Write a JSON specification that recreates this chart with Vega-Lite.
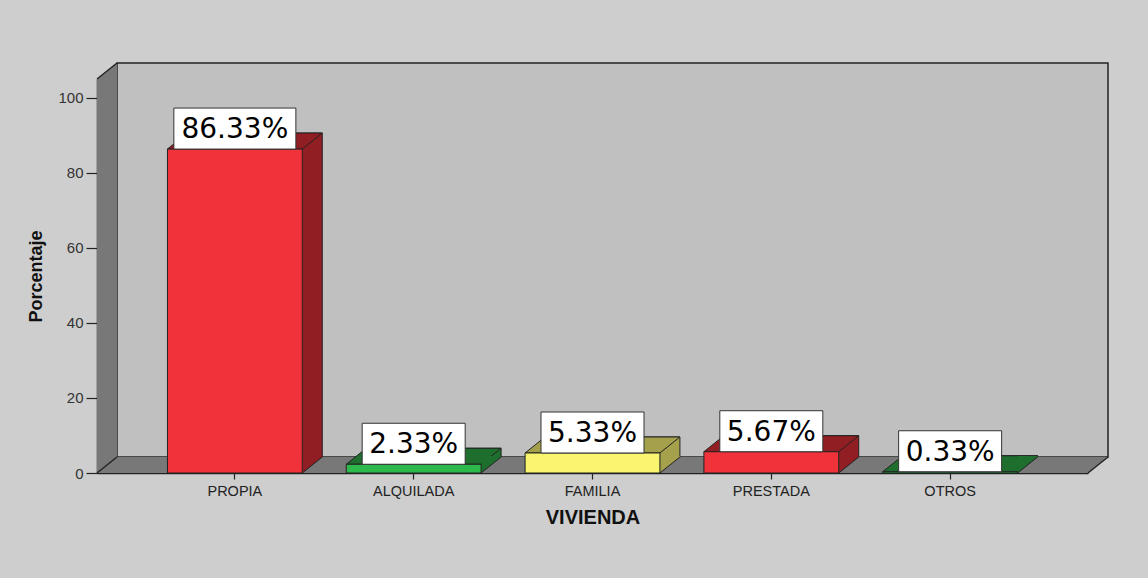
{
  "$schema": "https://vega.github.io/schema/vega-lite/v6.json",
  "width": 991,
  "height": 394,
  "autosize": {"type": "none"},
  "padding": {"left": 97, "top": 79, "right": 60, "bottom": 105},
  "background": "#CECECE",
  "config": {"view": {"stroke": null}},
  "data": {"values": [
    {"vivienda": "PROPIA", "pct": 86.33},
    {"vivienda": "ALQUILADA", "pct": 2.33},
    {"vivienda": "FAMILIA", "pct": 5.33},
    {"vivienda": "PRESTADA", "pct": 5.67},
    {"vivienda": "OTROS", "pct": 0.33}
  ]},
  "transform": [{"calculate": "format(datum.pct, '.2f') + '%'", "as": "label"}],
  "resolve": {"scale": {"fill": "independent"}},
  "layer": [
    {
      "data": {"values": [{}]},
      "mark": {"type": "rect", "xOffset": 20, "x2Offset": 20, "yOffset": -16, "y2Offset": -16, "fill": "#C0C0C0", "stroke": "#222222", "strokeWidth": 1.5},
      "encoding": {
        "x": {"value": 0}, "x2": {"value": "width"},
        "y": {"datum": 105, "type": "quantitative"}, "y2": {"datum": 0}
      }
    },
    {
      "data": {"values": [{}]},
      "mark": {"type": "rect", "x2Offset": 20, "fill": "#787878"},
      "encoding": {
        "x": {"value": 0}, "x2": {"value": 0},
        "y": {"datum": 105, "type": "quantitative"}, "y2": {"datum": 0}
      }
    },
    {
      "data": {"values": [{}]},
      "mark": {"type": "point", "shape": "M0,0L1,-0.8L1,0Z", "size": 1600, "filled": true, "fill": "#787878", "strokeWidth": 0, "opacity": 1},
      "encoding": {
        "x": {"value": 0},
        "y": {"datum": 105, "type": "quantitative"}
      }
    },
    {
      "data": {"values": [{}]},
      "mark": {"type": "rect", "yOffset": -16, "fill": "#787878"},
      "encoding": {
        "x": {"value": 0}, "x2": {"value": "width"},
        "y": {"datum": 0, "type": "quantitative"}, "y2": {"datum": 0}
      }
    },
    {
      "data": {"values": [{}]},
      "mark": {"type": "point", "shape": "M0,0L1,-0.8L0,-0.8Z", "size": 1600, "filled": true, "fill": "#787878", "strokeWidth": 0, "opacity": 1},
      "encoding": {
        "x": {"value": "width"},
        "y": {"datum": 0, "type": "quantitative"}
      }
    },
    {
      "data": {"values": [{}]},
      "mark": {"type": "rule", "x2Offset": 20, "y2Offset": -16, "stroke": "#222222", "strokeWidth": 1.5},
      "encoding": {
        "x": {"value": 0}, "x2": {"value": 0},
        "y": {"datum": 105, "type": "quantitative"}, "y2": {"datum": 105}
      }
    },
    {
      "data": {"values": [{}]},
      "mark": {"type": "rule", "x2Offset": 20, "y2Offset": -16, "stroke": "#222222", "strokeWidth": 1.5},
      "encoding": {
        "x": {"value": 0}, "x2": {"value": 0},
        "y": {"datum": 0, "type": "quantitative"}, "y2": {"datum": 0}
      }
    },
    {
      "data": {"values": [{}]},
      "mark": {"type": "rule", "x2Offset": 20, "y2Offset": -16, "stroke": "#222222", "strokeWidth": 1.5},
      "encoding": {
        "x": {"value": "width"}, "x2": {"value": "width"},
        "y": {"datum": 0, "type": "quantitative"}, "y2": {"datum": 0}
      }
    },
    {
      "mark": {"type": "bar", "xOffset": 20, "yOffset": -16, "y2Offset": -16, "stroke": "#222222", "strokeWidth": 1},
      "encoding": {
        "x": {"field": "vivienda", "type": "nominal", "sort": null,
              "scale": {"paddingInner": 0.246, "paddingOuter": 0.394},
              "axis": {"labelAngle": 0, "labelFont": "Liberation Sans", "labelFontSize": 14.5, "labelColor": "#222222",
                       "tickSize": 6, "tickColor": "#222222", "tickWidth": 1.2, "domainColor": "#222222", "domainWidth": 1.5,
                       "labelPadding": 5, "title": "VIVIENDA", "titleFont": "Liberation Sans", "titleFontSize": 20,
                       "titleFontWeight": "bold", "titleColor": "#111111", "titlePadding": 10, "grid": false}},
        "y": {"field": "pct", "type": "quantitative",
              "scale": {"domain": [0, 105], "nice": false},
              "axis": {"values": [0, 20, 40, 60, 80, 100], "tickSize": 11, "tickColor": "#222222", "tickWidth": 1.2,
                       "domainColor": "#222222", "domainWidth": 1.5, "labelFont": "Liberation Sans", "labelFontSize": 15,
                       "labelColor": "#333333", "labelPadding": 3, "title": "Porcentaje", "titleFont": "Liberation Sans",
                       "titleFontSize": 18, "titleFontWeight": "bold", "titleColor": "#111111", "titlePadding": 12, "grid": false}},
        "y2": {"datum": 0},
        "fill": {"field": "vivienda", "type": "nominal",
                 "scale": {"domain": ["PROPIA", "ALQUILADA", "FAMILIA", "PRESTADA", "OTROS"],
                           "range": ["#911E23", "#1E6E2D", "#A5A04B", "#911E23", "#1E6E2D"]},
                 "legend": null}
      }
    },
    {
      "mark": {"type": "point", "shape": "M0,0L1,-0.8L7.74,-0.8L6.74,0Z", "size": 1600, "filled": true, "stroke": "#222222", "strokeWidth": 1, "opacity": 1},
      "encoding": {
        "x": {"field": "vivienda", "type": "nominal", "sort": null, "bandPosition": 0},
        "y": {"field": "pct", "type": "quantitative"},
        "fill": {"field": "vivienda", "type": "nominal",
                 "scale": {"domain": ["PROPIA", "ALQUILADA", "FAMILIA", "PRESTADA", "OTROS"],
                           "range": ["#911E23", "#1E6E2D", "#A5A04B", "#911E23", "#1E6E2D"]},
                 "legend": null}
      }
    },
    {
      "mark": {"type": "point", "shape": "M0,0L0,-0.85L1,-0.85L1,-0.8Z", "size": 1600, "filled": true, "strokeWidth": 0, "opacity": 1},
      "encoding": {
        "x": {"field": "vivienda", "type": "nominal", "sort": null, "bandPosition": 1},
        "y": {"datum": 0, "type": "quantitative"},
        "fill": {"field": "vivienda", "type": "nominal",
                 "scale": {"domain": ["PROPIA", "ALQUILADA", "FAMILIA", "PRESTADA", "OTROS"],
                           "range": ["#911E23", "#1E6E2D", "#A5A04B", "#911E23", "#1E6E2D"]},
                 "legend": null}
      }
    },
    {
      "mark": {"type": "point", "shape": "M0,0L1,-0.8", "size": 1600, "filled": false, "stroke": "#222222", "strokeWidth": 1, "opacity": 1},
      "encoding": {
        "x": {"field": "vivienda", "type": "nominal", "sort": null, "bandPosition": 1},
        "y": {"datum": 0, "type": "quantitative"}
      }
    },
    {
      "mark": {"type": "bar", "stroke": "#222222", "strokeWidth": 1},
      "encoding": {
        "x": {"field": "vivienda", "type": "nominal", "sort": null},
        "y": {"field": "pct", "type": "quantitative"},
        "y2": {"datum": 0},
        "fill": {"field": "vivienda", "type": "nominal",
                 "scale": {"domain": ["PROPIA", "ALQUILADA", "FAMILIA", "PRESTADA", "OTROS"],
                           "range": ["#F0323A", "#2DB94B", "#FAF56E", "#F0323A", "#2DB94B"]},
                 "legend": null}
      }
    },
    {
      "transform": [{"filter": "datum.pct >= 10"}],
      "mark": {"type": "point", "shape": "M-1,-0.336L1,-0.336L1,0.336L-1,0.336Z", "size": 14884, "filled": true, "fill": "#FFFFFF", "stroke": "#333333", "strokeWidth": 1, "opacity": 1, "yOffset": -20.5},
      "encoding": {
        "x": {"field": "vivienda", "type": "nominal", "sort": null},
        "y": {"field": "pct", "type": "quantitative"}
      }
    },
    {
      "transform": [{"filter": "datum.pct < 10"}],
      "mark": {"type": "point", "shape": "M-1,-0.398L1,-0.398L1,0.398L-1,0.398Z", "size": 10609, "filled": true, "fill": "#FFFFFF", "stroke": "#333333", "strokeWidth": 1, "opacity": 1, "yOffset": -20.5},
      "encoding": {
        "x": {"field": "vivienda", "type": "nominal", "sort": null},
        "y": {"field": "pct", "type": "quantitative"}
      }
    },
    {
      "mark": {"type": "text", "font": "DejaVu Sans", "fontSize": 28, "align": "center", "baseline": "middle", "fill": "#000000", "yOffset": -19},
      "encoding": {
        "x": {"field": "vivienda", "type": "nominal", "sort": null},
        "y": {"field": "pct", "type": "quantitative"},
        "text": {"field": "label", "type": "nominal"}
      }
    }
  ]
}
